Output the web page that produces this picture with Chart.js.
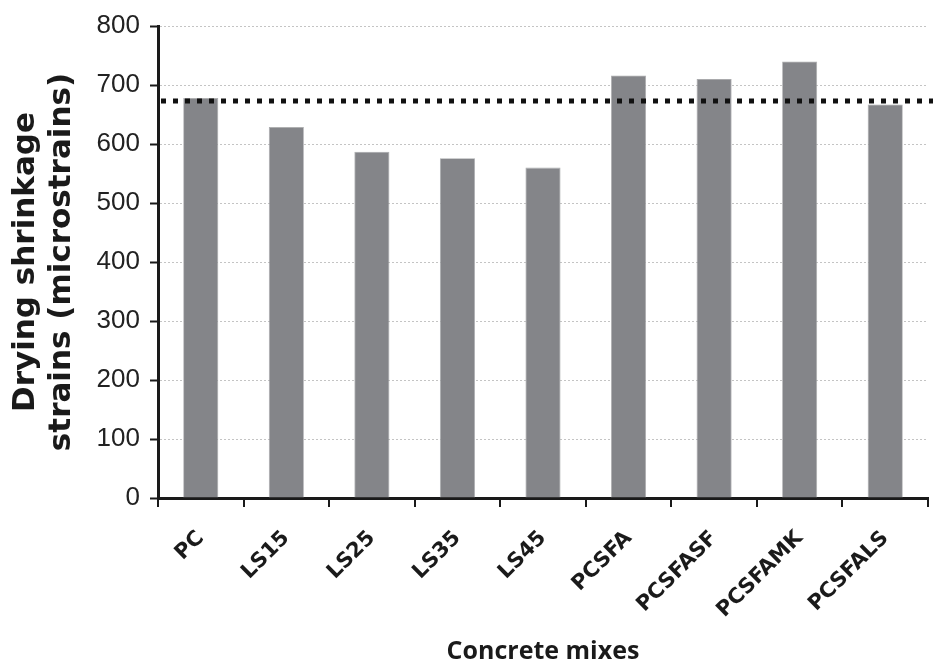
<!DOCTYPE html>
<html lang="en">
<head>
    <meta charset="UTF-8">
    <title>Drying shrinkage strains</title>
    <script src="https://cdn.jsdelivr.net/npm/chart.js"></script>
    <style>
        html, body {
            margin: 0;
            padding: 0;
            background: #ffffff;
        }
        .chart-container {
            width: 933px;
            height: 670px;
        }
    </style>
</head>
<body>
    <div class="chart-container">
        <canvas id="shrinkChart"></canvas>
    </div>

    <script>
        // Data
        const mixes = ["PC", "LS15", "LS25", "LS35", "LS45", "PCSFA", "PCSFASF", "PCSFAMK", "PCSFALS"];
        const shrinkage = [678, 629, 587, 576, 560, 716, 710, 740, 667];
        const referenceLevel = 673; // dotted line (PC level)
        const yTicks = [0, 100, 200, 300, 400, 500, 600, 700, 800];

        // dotted reference line, placed through the y scale
        const refLinePlugin = {
            id: 'refLine',
            afterDatasetsDraw(chart) {
                const ctx = chart.ctx;
                const y = chart.scales.y.getPixelForValue(referenceLevel);
                ctx.save();
                ctx.strokeStyle = '#111111';
                ctx.lineWidth = 5;
                ctx.setLineDash([5, 7]);
                ctx.beginPath();
                ctx.moveTo(chart.chartArea.left + 3, y);
                ctx.lineTo(chart.width, y);
                ctx.stroke();
                ctx.restore();
            }
        };

        const ctx = document.getElementById('shrinkChart').getContext('2d');
        const chart = new Chart(ctx, {
            type: 'bar',
            data: {
                labels: mixes,
                datasets: [{
                    data: shrinkage,
                    backgroundColor: '#848589',
                    borderColor: '#a9aaac',
                    borderWidth: 0.8,
                    barPercentage: 0.41,
                    categoryPercentage: 1.0,
                }]
            },
            options: {
                responsive: true,
                maintainAspectRatio: false,
                animation: false,
                layout: {
                    padding: { top: 26, right: 5, left: 0, bottom: 0 }
                },
                plugins: {
                    legend: { display: false },
                    tooltip: { enabled: false },
                },
                scales: {
                    x: {
                        offset: true,
                        grid: {
                            offset: true,
                            drawOnChartArea: false,
                            drawTicks: true,
                            tickLength: 9,
                            tickColor: '#1a1a1a',
                            tickWidth: 2,
                            lineWidth: 2,
                            color: '#1a1a1a',
                        },
                        border: {
                            display: true,
                            color: '#1a1a1a',
                            width: 3,
                        },
                        ticks: {
                            minRotation: 45,
                            maxRotation: 45,
                            padding: 19,
                            color: '#1a1a1a',
                            font: { family: 'DejaVu Sans', weight: 'bold', size: 21 },
                        },
                        title: {
                            display: true,
                            text: 'Concrete mixes',
                            color: '#1a1a1a',
                            padding: { top: 4, bottom: 3 },
                            font: { family: 'Open Sans', weight: 'bold', size: 25, lineHeight: 1.2 },
                        },
                        afterFit(scale) {
                            scale.height = 172;
                        }
                    },
                    y: {
                        min: 0,
                        max: 800,
                        afterBuildTicks(scale) {
                            scale.ticks = yTicks.map(v => ({ value: v }));
                        },
                        grid: {
                            color: '#c4c4c4',
                            lineWidth: 1,
                            drawTicks: true,
                            tickLength: 8,
                            tickColor: '#1a1a1a',
                            tickWidth: 2,
                            tickBorderDash: [],
                        },
                        border: {
                            display: true,
                            color: '#1a1a1a',
                            width: 3,
                            dash: [2, 2],
                        },
                        ticks: {
                            padding: 10,
                            color: '#222222',
                            font: { family: 'Liberation Sans', size: 26 },
                        },
                        title: {
                            display: true,
                            text: ['Drying shrinkage', 'strains (microstrains)'],
                            color: '#1a1a1a',
                            padding: { top: 8, bottom: 0 },
                            font: { family: 'DejaVu Sans', weight: 'bold', size: 31, lineHeight: '36px' },
                        },
                        afterFit(scale) {
                            scale.width = 158;
                        }
                    }
                }
            },
            plugins: [refLinePlugin]
        });
    </script>
</body>
</html>
